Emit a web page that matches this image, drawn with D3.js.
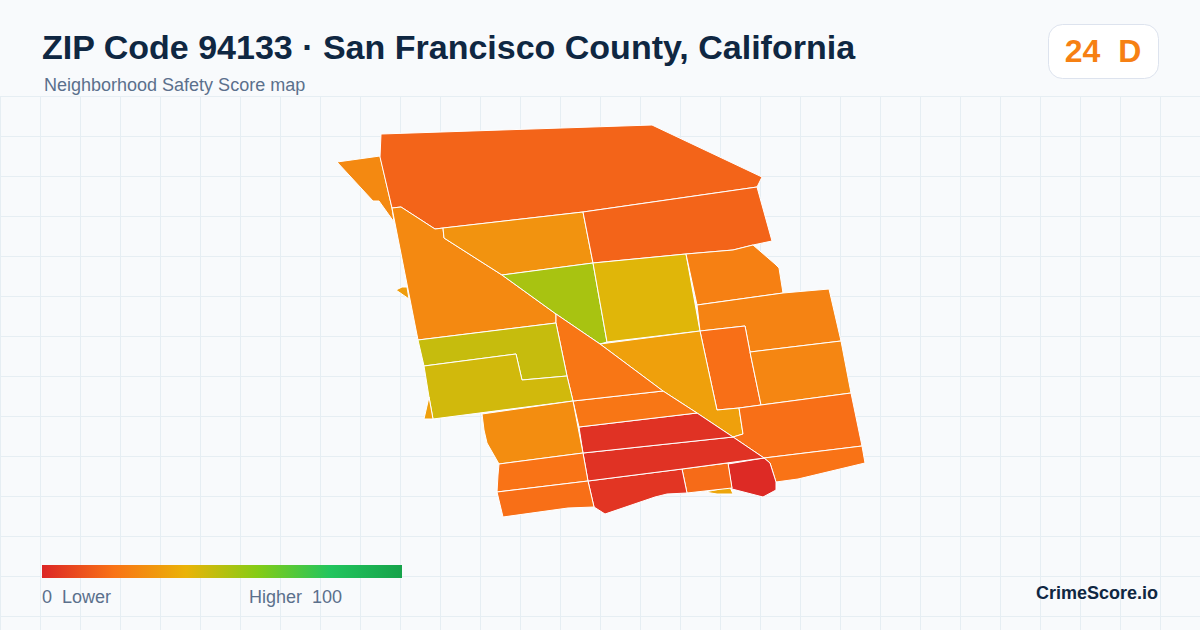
<!DOCTYPE html>
<html lang="en">
  <head>
    <meta charset="UTF-8" />
    <title>ZIP Code 94133 Safety Score map</title>
    <script src="https://d3js.org/d3.v7.min.js"></script>
    <style>
      html,
      body {
        margin: 0;
        background: #f8fafc;
      }
      svg {
        display: block;
        font-family: "Liberation Sans", Arial, sans-serif;
      }
      text {
        white-space: pre;
      }
    </style>
  </head>
  <body>
    <div id="chart"></div>
    <script>
      const titleText = "ZIP Code 94133 · San Francisco County, California";
      const subtitleText = "Neighborhood Safety Score map";
      const badgeScore = 24;
      const badgeGrade = "D";
      const brandText = "CrimeScore.io";

      // legend colour ramp
      const rampStops = [0, 20, 40, 60, 80, 100];
      const rampColors = ["#dc2626", "#f97316", "#eab308", "#84cc16", "#22c55e", "#16a34a"];

      // score of each tract, read from its fill
      const tractScores = [
        27, 16, 27, 30, 53, 16, 42, 24, 25, 19, 26, 34, 19, 20, 1, 36, 18, 4, 3, 3, 21, 21, 47, 45,
        34, 28, 20, 19, 33,
      ];

      // tract outlines in map units
      const tractRings = [
        [[37,52],[80,46],[92,98],[94,112],[79,91],[73,91]],
        [[81,24],[352,15],[462,67],[457,77],[283,102],[135,119],[101,97],[92,98],[80,47]],
        [[92,98],[101,97],[135,119],[143,118],[144,128],[202,165],[256,204],[256,213],[118,230]],
        [[143,118],[283,102],[293,153],[202,165],[144,128]],
        [[202,165],[293,153],[307,232],[300,234],[256,204]],
        [[283,102],[457,77],[472,131],[453,135],[433,140],[386,144],[293,153]],
        [[293,153],[386,144],[400,221],[307,232]],
        [[386,144],[433,140],[453,135],[475,154],[479,158],[483,183],[397,195]],
        [[397,195],[483,183],[529,179],[541,231],[450,242],[445,216],[400,221]],
        [[400,221],[445,216],[450,242],[461,295],[439,298],[417,300]],
        [[450,242],[541,231],[551,283],[461,295]],
        [[300,234],[400,221],[417,300],[439,298],[443,324],[433,327],[397,303],[363,281]],
        [[439,298],[461,295],[551,283],[562,336],[464,348],[433,327],[443,324]],
        [[464,348],[562,336],[565,353],[498,369],[476,372],[470,353]],
        [[428,354],[464,348],[470,353],[476,372],[476,380],[463,387],[432,379]],
        [[405,382],[430,377],[433,384],[417,384]],
        [[382,359],[428,353],[432,378],[387,383]],
        [[288,371],[382,359],[387,383],[367,384],[355,387],[305,404],[294,397]],
        [[283,343],[433,327],[464,348],[382,359],[288,371]],
        [[279,317],[397,303],[433,327],[283,343]],
        [[273,291],[363,281],[397,303],[279,317]],
        [[256,204],[300,234],[363,281],[273,291],[267,266],[256,213]],
        [[118,230],[256,213],[267,266],[222,270],[216,244],[124,256]],
        [[124,256],[216,244],[222,270],[267,266],[273,291],[133,309],[129,287]],
        [[129,287],[124,309],[133,309]],
        [[182,304],[273,291],[283,343],[199,354],[187,333],[184,320]],
        [[199,354],[283,343],[288,371],[197,382],[198,365]],
        [[197,382],[288,371],[294,397],[268,398],[203,407]],
        [[96,180],[102,177],[107,177],[109,189]],
      ];

      const width = 1200,
        height = 630;

      const svg = d3
        .select("#chart")
        .append("svg")
        .attr("width", width)
        .attr("height", height);

      const color = d3.scaleLinear().domain(rampStops).range(rampColors);

      // background grid
      const grid = svg.append("g").attr("stroke", "#e6eef3").attr("stroke-width", 1);
      grid
        .selectAll("line.v")
        .data(d3.range(0.5, width, 40))
        .join("line")
        .attr("class", "v")
        .attr("x1", (d) => d)
        .attr("x2", (d) => d)
        .attr("y1", 96)
        .attr("y2", height);
      grid
        .selectAll("line.h")
        .data(d3.range(96.5, height, 40))
        .join("line")
        .attr("class", "h")
        .attr("x1", 0)
        .attr("x2", width)
        .attr("y1", (d) => d)
        .attr("y2", (d) => d);

      // map
      const mapX = d3.scaleLinear().domain([0, 600]).range([300, 900]);
      const mapY = d3.scaleLinear().domain([0, 420]).range([110, 530]);
      const ringPath = d3
        .line()
        .x((d) => mapX(d[0]))
        .y((d) => mapY(d[1]))
        .curve(d3.curveLinearClosed);

      svg
        .append("g")
        .selectAll("path")
        .data(tractRings)
        .join("path")
        .attr("d", ringPath)
        .attr("fill", (d, i) => color(tractScores[i]))
        .attr("stroke", "#ffffff")
        .attr("stroke-width", 1)
        .attr("stroke-linejoin", "round");

      // header
      svg
        .append("text")
        .attr("x", 42)
        .attr("y", 59)
        .attr("font-size", 34)
        .attr("font-weight", 700)
        .attr("fill", "#0f2742")
        .text(titleText);
      svg
        .append("text")
        .attr("x", 44)
        .attr("y", 91)
        .attr("font-size", 18)
        .attr("fill", "#5b708c")
        .text(subtitleText);

      // score badge
      svg
        .append("rect")
        .attr("x", 1048.5)
        .attr("y", 24.5)
        .attr("width", 110)
        .attr("height", 54)
        .attr("rx", 14)
        .attr("fill", "#ffffff")
        .attr("stroke", "#dde3ee");
      svg
        .append("text")
        .attr("x", 1103)
        .attr("y", 62)
        .attr("text-anchor", "middle")
        .attr("font-size", 32)
        .attr("font-weight", 700)
        .attr("fill", color(badgeScore))
        .text(`${badgeScore}  ${badgeGrade}`);

      // legend
      const legendX = d3.scaleLinear().domain([0, 100]).range([42, 402]);
      const gradient = svg
        .append("defs")
        .append("linearGradient")
        .attr("id", "ramp");
      gradient
        .selectAll("stop")
        .data(rampStops)
        .join("stop")
        .attr("offset", (d) => d + "%")
        .attr("stop-color", (d) => color(d));
      svg
        .append("rect")
        .attr("x", legendX(0))
        .attr("y", 565)
        .attr("width", legendX(100) - legendX(0))
        .attr("height", 13)
        .attr("fill", "url(#ramp)");
      svg
        .append("text")
        .attr("x", 42)
        .attr("y", 603)
        .attr("font-size", 18)
        .attr("fill", "#5b708c")
        .text("0  Lower");
      svg
        .append("text")
        .attr("x", 342)
        .attr("y", 603)
        .attr("text-anchor", "end")
        .attr("font-size", 18)
        .attr("fill", "#5b708c")
        .text("Higher  100");

      svg
        .append("text")
        .attr("x", 1158)
        .attr("y", 599)
        .attr("text-anchor", "end")
        .attr("font-size", 18)
        .attr("font-weight", 700)
        .attr("fill", "#0f2742")
        .text(brandText);
    </script>
  </body>
</html>
